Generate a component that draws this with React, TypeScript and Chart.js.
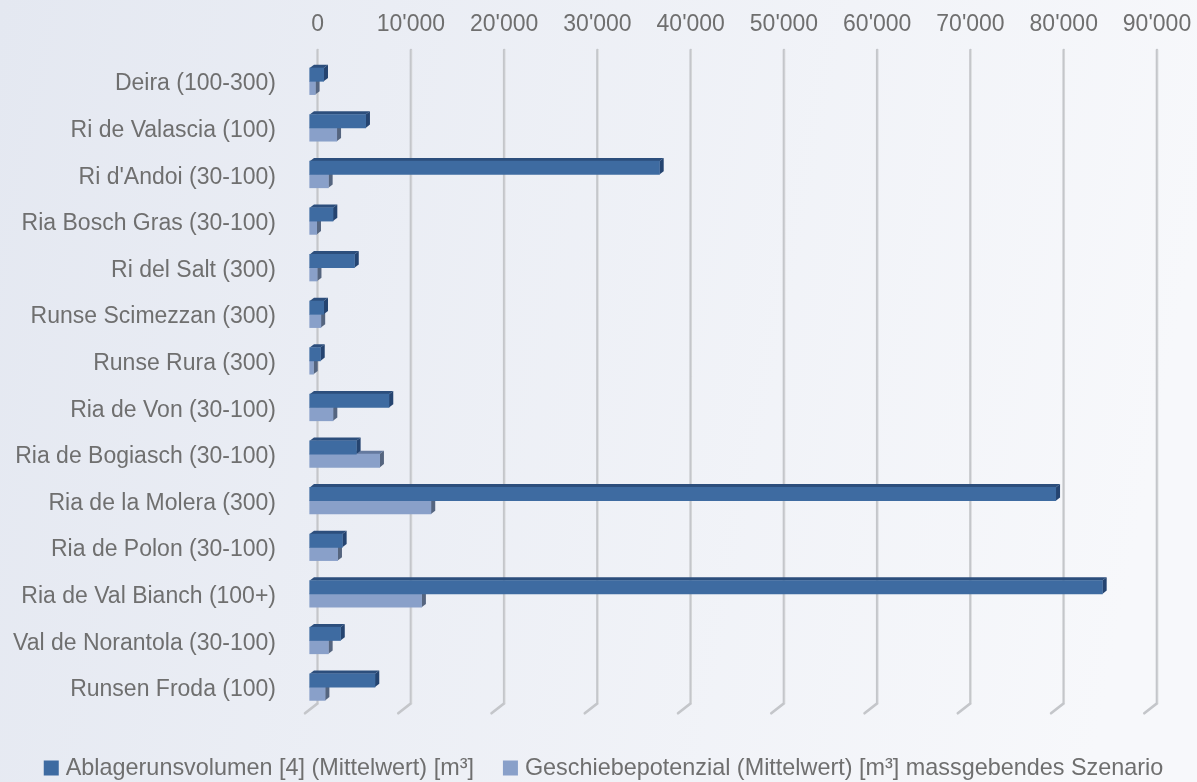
import React, { useEffect, useRef } from "react";
import { Chart, registerables } from "chart.js";

Chart.register(...registerables);

const categories = [
  "Deira (100-300)",
  "Ri de Valascia (100)",
  "Ri d'Andoi (30-100)",
  "Ria Bosch Gras (30-100)",
  "Ri del Salt (300)",
  "Runse Scimezzan (300)",
  "Runse Rura (300)",
  "Ria de Von (30-100)",
  "Ria de Bogiasch (30-100)",
  "Ria de la Molera (300)",
  "Ria de Polon (30-100)",
  "Ria de Val Bianch (100+)",
  "Val de Norantola (30-100)",
  "Runsen Froda (100)",
];

const ablagerungsvolumen = [1500, 6000, 37500, 2500, 4800, 1500, 1150, 8500, 5000, 80000, 3500, 85000, 3300, 7000];
const geschiebepotenzial = [600, 2900, 2000, 750, 800, 1200, 400, 2500, 7500, 13000, 3000, 12000, 2000, 1650];

const seriesNames = [
  "Ablagerunsvolumen [4] (Mittelwert) [m³]",
  "Geschiebepotenzial (Mittelwert) [m³] massgebendes Szenario",
];

const axisMin = 0;
const axisMax = 90000;
const axisStep = 10000;

const FONT_FAMILY = "'Liberation Sans', Arial, Helvetica, sans-serif";
const TEXT_COLOR = "#6f6f6f";
const FRONT_COLORS = ["#3e6ba1", "#89a0c9"];
const TOP_COLORS = ["#2c4e7c", "#64799e"];
const SIDE_COLORS = ["#254470", "#55657f"];

// 3D look
const DEPTH_DX = 4.3;
const DEPTH_DY = 3.3;
const FRONT_SHIFT_X = -8;
const FRONT_SHIFT_Y = -1.7;

const W = 1197;
const H = 782;

function formatTick(v: number): string {
  return String(Math.round(v)).replace(/\B(?=(\d{3})+(?!\d))/g, "'");
}

const backgroundPlugin = {
  id: "bg",
  beforeDraw(chart: any) {
    const ctx = chart.ctx;
    const g = ctx.createLinearGradient(0, 0, chart.width, chart.height * 0.3);
    g.addColorStop(0, "#e4e8f1");
    g.addColorStop(1, "#f7f8fb");
    ctx.save();
    ctx.fillStyle = g;
    ctx.fillRect(0, 0, chart.width, chart.height);
    ctx.restore();
  },
};

const wall3dPlugin = {
  id: "wall3d",
  beforeDatasetsDraw(chart: any) {
    const ctx = chart.ctx;
    const area = chart.chartArea;
    const xs = chart.scales.x;
    // back-wall gridlines with floor foot
    ctx.save();
    ctx.lineCap = "round";
    for (const t of xs.ticks) {
      const px = xs.getPixelForValue(t.value);
      const yTop = area.top - 9.7;
      const yBot = area.bottom - 8.8;
      ctx.strokeStyle = "#c4c6ca";
      ctx.lineWidth = 2.6;
      ctx.beginPath();
      ctx.moveTo(px, yTop);
      ctx.lineTo(px, yBot);
      ctx.lineTo(px - 12.7, area.bottom + 1.2);
      ctx.stroke();
      ctx.strokeStyle = "rgba(255,255,255,0.45)";
      ctx.lineWidth = 0.8;
      ctx.beginPath();
      ctx.moveTo(px + 1, yTop);
      ctx.lineTo(px + 1, yBot);
      ctx.stroke();
    }
    ctx.restore();

    // shift bars to the front plane
    ctx.save();
    ctx.translate(FRONT_SHIFT_X, FRONT_SHIFT_Y);
    const order = [1, 0];
    for (const di of order) {
      const meta = chart.getDatasetMeta(di);
      for (const el of meta.data as any[]) {
        const left = el.base;
        const right = el.x;
        const top = el.y - el.height / 2;
        const bottom = el.y + el.height / 2;
        ctx.fillStyle = TOP_COLORS[di];
        ctx.beginPath();
        ctx.moveTo(left, top);
        ctx.lineTo(left + DEPTH_DX, top - DEPTH_DY);
        ctx.lineTo(right + DEPTH_DX, top - DEPTH_DY);
        ctx.lineTo(right, top);
        ctx.closePath();
        ctx.fill();
        ctx.fillStyle = SIDE_COLORS[di];
        ctx.beginPath();
        ctx.moveTo(right, top);
        ctx.lineTo(right + DEPTH_DX, top - DEPTH_DY);
        ctx.lineTo(right + DEPTH_DX, bottom - DEPTH_DY);
        ctx.lineTo(right, bottom);
        ctx.closePath();
        ctx.fill();
      }
    }
  },
  afterDatasetsDraw(chart: any) {
    chart.ctx.restore();
  },
};

const legendPlugin = {
  id: "customLegend",
  afterDraw(chart: any) {
    const ctx = chart.ctx;
    ctx.save();
    ctx.font = `23.4px ${FONT_FAMILY}`;
    ctx.textBaseline = "middle";
    ctx.textAlign = "left";
    const box = 15;
    const gap = 7;
    const itemGap = 29;
    const widths = chart.data.datasets.map((d: any) => ctx.measureText(d.label).width);
    const total =
      widths.reduce((a: number, b: number) => a + b, 0) +
      widths.length * (box + gap) +
      (widths.length - 1) * itemGap;
    let x = (chart.width - total) / 2 + 5;
    const cy = 768;
    chart.data.datasets.forEach((d: any, i: number) => {
      ctx.fillStyle = FRONT_COLORS[i];
      ctx.fillRect(x, cy - box / 2, box, box);
      x += box + gap;
      ctx.fillStyle = TEXT_COLOR;
      ctx.fillText(d.label, x, cy + 1);
      x += widths[i] + itemGap;
    });
    ctx.restore();
  },
};

export default function App() {
  const ref = useRef<HTMLCanvasElement | null>(null);

  useEffect(() => {
    if (!ref.current) return;
    const chart = new Chart(ref.current, {
      type: "bar",
      data: {
        labels: categories,
        datasets: [
          {
            label: seriesNames[0],
            data: ablagerungsvolumen,
            backgroundColor: FRONT_COLORS[0],
            barThickness: 13.3,
            clip: false as any,
          },
          {
            label: seriesNames[1],
            data: geschiebepotenzial,
            backgroundColor: FRONT_COLORS[1],
            barThickness: 13.3,
            clip: false as any,
          },
        ],
      },
      options: {
        indexAxis: "y",
        responsive: false,
        animation: false,
        devicePixelRatio: 1,
        layout: { padding: { left: 0, right: 40, top: 0, bottom: 69.9 } },
        plugins: {
          legend: { display: false },
          tooltip: { enabled: false },
        },
        scales: {
          x: {
            position: "top",
            min: axisMin,
            max: axisMax,
            grid: { display: false, drawTicks: false },
            border: { display: false },
            ticks: {
              stepSize: axisStep,
              padding: 21,
              color: TEXT_COLOR,
              font: { family: FONT_FAMILY, size: 23 },
              callback: (v: any) => formatTick(Number(v)),
              maxRotation: 0,
              autoSkip: false,
            },
            afterFit: (scale: any) => {
              scale.height = 59.7;
              scale.paddingLeft = 0;
              scale.paddingRight = 0;
            },
          },
          y: {
            grid: { display: false, drawTicks: false },
            border: { display: false },
            ticks: {
              padding: 41.7,
              labelOffset: 1,
              color: TEXT_COLOR,
              font: { family: FONT_FAMILY, size: 23 },
              autoSkip: false,
            },
            afterFit: (scale: any) => {
              scale.width = 317.7;
              scale.paddingTop = 0;
              scale.paddingBottom = 0;
            },
          },
        },
      },
      plugins: [backgroundPlugin, wall3dPlugin, legendPlugin],
    });
    return () => chart.destroy();
  }, []);

  return (
    <div style={{ position: "absolute", left: 0, top: 0, width: W, height: H }}>
      <canvas ref={ref} width={W} height={H} style={{ width: W, height: H, display: "block" }} />
    </div>
  );
}
